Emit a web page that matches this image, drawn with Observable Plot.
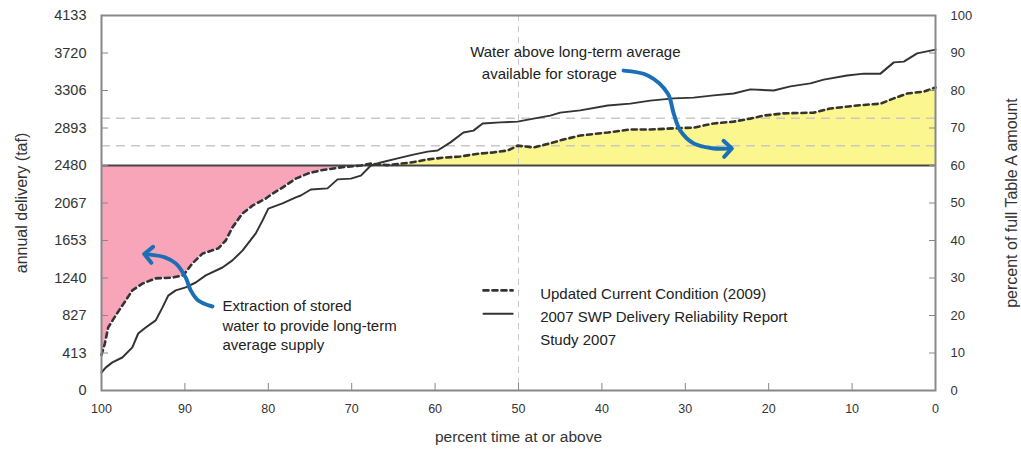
<!DOCTYPE html>
<html>
<head>
<meta charset="utf-8">
<script src="https://cdn.jsdelivr.net/npm/d3@7"></script>
<script src="https://cdn.jsdelivr.net/npm/@observablehq/plot@0.6"></script>
<style>
  html, body { margin: 0; padding: 0; background: #fff; }
  #chart { width: 1021px; height: 449px; }
</style>
</head>
<body>
<div id="chart"></div>
<script>
// ---- data (x = percent time at or above, y = percent of full Table A amount) ----
const xTicks = [100, 90, 80, 70, 60, 50, 40, 30, 20, 10, 0];
const yTicks = [0, 10, 20, 30, 40, 50, 60, 70, 80, 90, 100];
const tafLabels = ["0", "413", "827", "1240", "1653", "2067", "2480", "2893", "3306", "3720", "4133"];
const longTermAverage = 60;           // 2480 taf
const refLevels = [72.6, 65.3];       // light dashed reference levels
const refExceedance = [50];

const updatedP = [100, 99.6, 99.2, 98.3, 97.1, 96.3, 95.1, 93.5, 91.5, 90.2, 89.1, 87.9, 86.0, 85.1, 84.3, 83.1, 81.9, 80.3, 79.5, 78.3, 76.7, 75.2, 73.7, 71.3, 68.9, 67.7, 65.7, 62.9, 60.9, 59.0, 57.0, 54.6, 53.0, 51.3, 50.1, 48.2, 46.2, 45.0, 42.6, 39.3, 36.6, 34.2, 31.4, 29.0, 26.6, 24.2, 22.2, 20.6, 18.2, 14.6, 12.6, 9.4, 6.6, 5.0, 3.4, 1.4, 0];
const updatedV = [9.5, 12.5, 16.8, 20, 24, 26.7, 28.5, 29.9, 30.1, 30.7, 33.9, 36.5, 37.9, 40, 43.5, 47.2, 49.3, 51.2, 52.5, 54.1, 56.5, 57.9, 58.7, 59.5, 60, 60.5, 60.1, 60.8, 61.6, 62.1, 62.4, 63.2, 63.5, 64, 65.3, 64.8, 65.9, 66.7, 68, 68.8, 69.6, 69.6, 69.9, 70.1, 71.2, 71.7, 72.5, 73.3, 73.9, 74.1, 75.2, 76, 76.5, 77.9, 79.2, 79.7, 80.8];

const study2007P = [100, 99.5, 98.7, 97.5, 96.3, 95.6, 94.7, 93.5, 92.7, 92.0, 91.1, 89.9, 88.7, 87.5, 85.5, 84.3, 83.1, 81.5, 80.7, 80.0, 78.3, 76.7, 76.1, 74.9, 72.9, 71.7, 70.1, 68.9, 67.7, 66.5, 64.5, 62.6, 60.9, 59.7, 58.2, 56.6, 55.4, 54.3, 52.2, 50.1, 48.2, 46.2, 45.0, 42.6, 39.3, 36.6, 34.2, 31.4, 29.0, 26.6, 24.2, 22.2, 19.4, 17.4, 15.0, 13.4, 10.6, 8.6, 6.6, 5.0, 3.8, 2.2, 0];
const study2007V = [4.8, 6.1, 7.5, 8.8, 11.5, 15.2, 16.8, 18.7, 22.1, 25.3, 26.7, 27.5, 28.8, 30.7, 32.8, 34.7, 37.3, 41.9, 45.3, 48.5, 49.9, 51.5, 52, 53.6, 53.9, 56.3, 56.5, 57.3, 60, 60.8, 61.9, 62.9, 63.7, 64, 66.1, 68.8, 69.3, 71.2, 71.5, 71.7, 72.5, 73.3, 74.1, 74.7, 76, 76.5, 77.3, 77.9, 78.1, 78.7, 79.2, 80.3, 80, 81.1, 81.9, 82.9, 84, 84.5, 84.5, 87.5, 87.7, 89.9, 90.9];

const seriesNames = ["Updated Current Condition (2009)", "2007 SWP Delivery Reliability Report\nStudy 2007"];

// annotation texts and anchors (data coordinates)
const noteTexts = ["Water above long-term average", "available for storage", "Extraction of stored\nwater to provide long-term\naverage supply"];
const noteP = [55.8, 38.2, 85.5];
const noteV = [92.6, 86.8, 24.8];
const noteAnchor = ["start", "end", "start"];
const arrowAP = [37.4, 34.5, 32.1, 31.4, 30.6, 29.0, 26.8, 24.9];
const arrowAV = [85.3, 84.0, 79.2, 73.9, 69.3, 65.9, 64.6, 64.5];
const arrowBP = [86.7, 88.4, 89.3, 89.9, 91.1, 92.4, 94.4];
const arrowBV = [22.4, 24.0, 26.7, 30.1, 33.9, 35.5, 36.3];

// legend anchors (data coordinates)
const legendLineP = [54.2, 50.7];
const legendTextP = 47.4;
const legendLineV = [26.7, 20.5];
const legendTextV = [28.8, 22.7];

// ---- build tables ----
const updated = updatedP.map((p, i) => ({p, v: updatedV[i]}));
const study2007 = study2007P.map((p, i) => ({p, v: study2007V[i]}));
const arrowA = arrowAP.map((p, i) => ({p, v: arrowAV[i]}));
const arrowB = arrowBP.map((p, i) => ({p, v: arrowBV[i]}));
const notes = noteTexts.map((t, i) => ({t, p: noteP[i], v: noteV[i], a: noteAnchor[i]}));
const legDash = legendLineP.map(p => ({p, v: legendLineV[0]}));
const legSolid = legendLineP.map(p => ({p, v: legendLineV[1]}));
const legText = seriesNames.map((t, i) => ({t, p: legendTextP, v: legendTextV[i]}));

const pink = "#f8a5b9";
const yellow = "#fbf68e";
const ink = "#333";
const blue = "#1b6fb7";
const font = "'Liberation Sans', Arial, sans-serif";

const chart = Plot.plot({
  width: 1021,
  height: 449,
  marginLeft: 101,
  marginRight: 86,
  marginTop: 15,
  marginBottom: 59,
  style: {fontFamily: font, fontSize: "12px", color: ink, background: "#fff"},
  x: {domain: [100, 0]},
  y: {domain: [0, 100]},
  marks: [
    Plot.areaY(updated, {x: "p", y1: () => longTermAverage, y2: d => Math.min(d.v, longTermAverage), fill: pink}),
    Plot.areaY(updated, {x: "p", y1: () => longTermAverage, y2: d => Math.max(d.v, longTermAverage), fill: yellow}),
    Plot.ruleY(refLevels, {stroke: "#c8c8c8", strokeWidth: 1.5, strokeDasharray: "9,6"}),
    Plot.ruleX(refExceedance, {stroke: "#c8c8c8", strokeWidth: 1, strokeDasharray: "6,5"}),
    Plot.ruleY([longTermAverage], {stroke: "#444", strokeWidth: 2.2}),
    Plot.line(study2007, {x: "p", y: "v", stroke: ink, strokeWidth: 2}),
    Plot.line(updated, {x: "p", y: "v", stroke: ink, strokeWidth: 2.6, strokeDasharray: "5,4"}),
    Plot.frame({stroke: "#888", strokeWidth: 2}),
    // inward ticks
    Plot.axisY({anchor: "left", ticks: yTicks, tickSize: 7, dx: 7, fill: "none", label: null, stroke: "#888"}),
    Plot.axisY({anchor: "right", ticks: yTicks, tickSize: 7, dx: -7, fill: "none", label: null, stroke: "#888"}),
    Plot.axisX({anchor: "bottom", ticks: xTicks, tickSize: 7, dy: -7, fill: "none", label: null, stroke: "#888"}),
    // tick labels
    Plot.axisY({anchor: "left", ticks: yTicks, tickSize: 0, tickPadding: 15, tickFormat: d => tafLabels[yTicks.indexOf(d)],
      label: null, fontSize: 14.5}),
    Plot.axisY({anchor: "right", ticks: yTicks, tickSize: 0, tickPadding: 15, tickFormat: d => String(d),
      label: null, fontSize: 13}),
    Plot.axisX({anchor: "bottom", ticks: xTicks, tickSize: 0, tickPadding: 14, tickFormat: d => String(d),
      label: null, fontSize: 12.5}),
    // axis titles
    Plot.axisY({anchor: "left", ticks: [], tickSize: 0, label: "annual delivery (taf)", labelAnchor: "center", labelOffset: 86, labelArrow: "none", fontSize: 16}),
    Plot.axisY({anchor: "right", ticks: [], tickSize: 0, label: "percent of full Table A amount", labelAnchor: "center", labelOffset: 81, labelArrow: "none", fontSize: 16}),
    Plot.axisX({anchor: "bottom", ticks: [], tickSize: 0, label: "percent time at or above", labelAnchor: "center", labelOffset: 51, labelArrow: "none", fontSize: 15.5}),
    // annotations
    Plot.text(notes.filter(d => d.a === "start"), {x: "p", y: "v", text: "t", textAnchor: "start", lineAnchor: "top", lineHeight: 1.3, fontSize: 15, fill: "#222"}),
    Plot.text(notes.filter(d => d.a === "end"), {x: "p", y: "v", text: "t", textAnchor: "end", lineAnchor: "top", lineHeight: 1.3, fontSize: 15, fill: "#222"}),
    Plot.line(arrowA, {x: "p", y: "v", stroke: blue, strokeWidth: 4, curve: "catmull-rom", markerEnd: "arrow"}),
    Plot.line(arrowB, {x: "p", y: "v", stroke: blue, strokeWidth: 4, curve: "catmull-rom", markerEnd: "arrow"}),
    // legend
    Plot.line(legDash, {x: "p", y: "v", stroke: ink, strokeWidth: 2.6, strokeDasharray: "5,4"}),
    Plot.line(legSolid, {x: "p", y: "v", stroke: ink, strokeWidth: 2}),
    Plot.text(legText, {x: "p", y: "v", text: "t", textAnchor: "start", lineAnchor: "top", lineHeight: 1.53, fontSize: 15, fill: "#222"})
  ]
});
document.getElementById("chart").appendChild(chart);
</script>
</body>
</html>
